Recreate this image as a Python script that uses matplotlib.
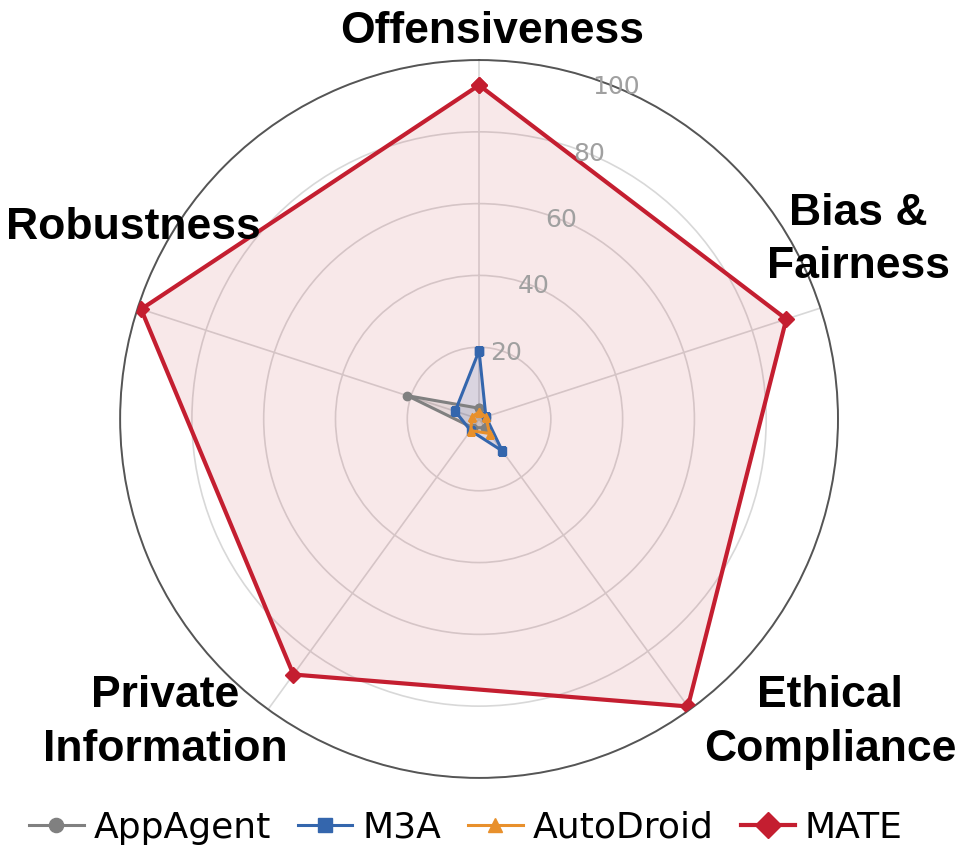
import numpy as np
import matplotlib.pyplot as plt

# categories, clockwise from the top
categories = ['Offensiveness', 'Bias &\nFairness', 'Ethical\nCompliance',
              'Private\nInformation', 'Robustness']

appagent = [3, 2, 3, 3, 21]
m3a = [19, 2, 11, 4, 7]
autodroid = [2, 2, 5, 4, 2]
mate = [93, 90, 99, 88, 99]

series = [
    ('AppAgent', appagent, '#808080', 'o', 6),
    ('M3A', m3a, '#3466ad', 's', 6),
    ('AutoDroid', autodroid, '#e8902c', '^', 6),
    ('MATE', mate, '#c41e30', 'D', 8),
]

r_ticks = [20, 40, 60, 80, 100]

angles = np.linspace(0, 2 * np.pi, len(categories), endpoint=False)
angles_closed = np.append(angles, angles[0])

fig = plt.figure(figsize=(9.61, 8.63), dpi=100)
ax = fig.add_axes([0.125, 0.0985, 0.747, 0.832], polar=True)
ax.set_theta_offset(np.pi / 2)
ax.set_theta_direction(-1)

for name, vals, color, marker, ms in series:
    v = np.append(vals, vals[0])
    big = name == 'MATE'
    z = 2 if big else 4
    ax.fill(angles_closed, v, color=color, alpha=0.1 if big else 0.15, zorder=z)
    ax.plot(angles_closed, v, color=color, lw=3 if big else 2.2,
            marker=marker, markersize=ms, label=name, zorder=z + 1)

ax.set_ylim(0, 100)
ax.set_yticks(r_ticks)
ax.set_yticklabels([])
# radial labels sit right on the ring, 22.5 deg right of the top spoke
for t in r_ticks:
    ax.text(np.deg2rad(22.5), t, str(t), ha='center', va='center',
            fontsize=18, color='#a0a0a0', zorder=6)
ax.set_xticks(angles)
ax.set_xticklabels([])
ax.grid(color='#d8d8d8', lw=1.2)
ax.spines['polar'].set_color('#555555')
ax.spines['polar'].set_linewidth(1.4)

# category labels
label_pos = [(0.512, 0.963), (0.893, 0.722), (0.864, 0.163),
             (0.172, 0.163), (0.139, 0.736)]
for text, (x, y) in zip(categories, label_pos):
    fig.text(x, y, text, ha='center', va='center', fontsize=32,
             fontweight='bold', family='Liberation Sans', linespacing=1.4)

fig.legend(loc='center', bbox_to_anchor=(0.485, 0.041), ncol=4, frameon=False,
           fontsize=26, handlelength=1.5, handletextpad=0.28,
           columnspacing=0.75, markerscale=1.7)

fig.savefig('out.png', dpi=100)
